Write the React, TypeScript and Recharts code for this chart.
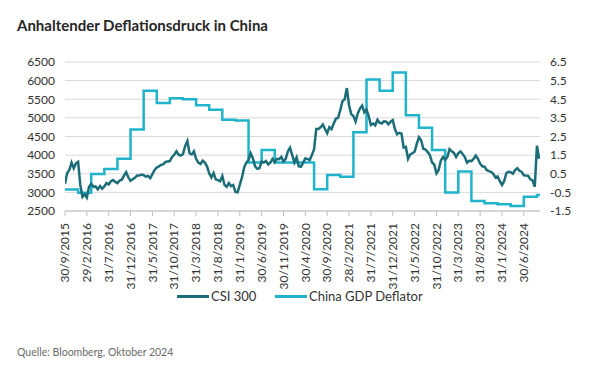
import React from "react";
import { LineChart, Line, XAxis, YAxis, CartesianGrid, Legend } from "recharts";

const TITLE = "Anhaltender Deflationsdruck in China";
const SOURCE = "Quelle: Bloomberg, Oktober 2024";
const FONT = "Lato, 'Noto Sans', sans-serif";

// x positions are months since 30/9/2015
const xTickMonths = [0, 5, 10, 15, 20, 25, 30, 35, 40, 45, 50, 55, 60, 65, 70, 75, 80, 85, 90, 95, 100, 105];
const xTickLabels = [
  "30/9/2015", "29/2/2016", "31/7/2016", "31/12/2016", "31/5/2017", "31/10/2017",
  "31/3/2018", "31/8/2018", "31/1/2019", "30/6/2019", "30/11/2019", "30/4/2020",
  "30/9/2020", "28/2/2021", "31/7/2021", "31/12/2021", "31/5/2022", "31/10/2022",
  "31/3/2023", "31/8/2023", "31/1/2024", "30/6/2024",
];
const leftTicks = [2500, 3000, 3500, 4000, 4500, 5000, 5500, 6000, 6500];
const rightTicks = [-1.5, -0.5, 0.5, 1.5, 2.5, 3.5, 4.5, 5.5, 6.5];

// CSI 300, one reading every half month from 30/9/2015
const CSI_STEP_MONTHS = 0.5;
const csiValues = [
  3230, 3520, 3600, 3800, 3650, 3780, 3820, 3200, 2880, 2950,
  2860, 3150, 3230, 3150, 3160, 3080, 3170, 3100, 3160, 3250,
  3210, 3300, 3330, 3280, 3250, 3320, 3340, 3450, 3540, 3400,
  3310, 3350, 3390, 3450, 3450, 3480, 3460, 3420, 3440, 3380,
  3490, 3600, 3670, 3700, 3740, 3760, 3820, 3830, 3840, 3950,
  4010, 4100, 4010, 3990, 4030, 4250, 4380, 4050, 4020, 4100,
  3900, 3800, 3760, 3850, 3800, 3700, 3510, 3400, 3520, 3350,
  3330, 3300, 3440, 3200, 3150, 3250, 3170, 3200, 3010, 3000,
  3200, 3400, 3670, 3800, 3870, 4050, 3910, 3700, 3630, 3650,
  3830, 3800, 3840, 3750, 3800, 3900, 3810, 3900, 3890, 3950,
  3830, 3900, 4100, 4200, 4000, 3800, 3940, 3700, 3690, 3800,
  3910, 3900, 3870, 4000, 4160, 4700, 4700, 4750, 4820, 4700,
  4590, 4750, 4700, 4850, 4980, 5000, 5210, 5450, 5500, 5800,
  5340, 5100, 5050, 4900, 5120, 5250, 5330, 5150, 5220, 5050,
  4810, 4850, 4800, 4950, 4870, 4850, 4910, 4900, 4830, 4900,
  4940, 4700, 4560, 4600, 4580, 4200, 4220, 3900, 4020, 4050,
  4090, 4300, 4480, 4400, 4170, 4150, 4080, 4000, 3800, 3750,
  3510, 3600, 3850, 3950, 3870, 3950, 4160, 4100, 4060, 3950,
  4050, 4100, 4030, 3950, 3800, 3850, 3840, 3900, 3990, 3900,
  3770, 3700, 3690, 3600, 3570, 3550, 3500, 3400, 3430, 3300,
  3200, 3300, 3520, 3550, 3540, 3500, 3600, 3650, 3580, 3550,
  3460, 3450, 3440, 3350, 3320, 3150, 4250, 3900,
];

// China GDP deflator (%, y/y), quarterly
const deflatorMonths = [
  0, 3, 6, 9, 12, 15, 18, 21, 24, 27, 30, 33, 36, 39, 42, 45, 48, 51, 54,
  57, 60, 63, 66, 69, 72, 75, 78, 81, 84, 87, 90, 93, 96, 99, 102, 105, 108, 108.7,
];
const deflatorValues = [
  -0.35, -0.52, 0.48, 0.75, 1.3, 2.88, 4.95, 4.3, 4.55, 4.5, 4.18, 3.94, 3.4, 3.36, 1.11, 1.78, 1.1, 1.1, 1.1,
  -0.33, 0.43, 0.34, 2.73, 5.56, 4.95, 5.93, 3.64, 2.97, 1.78, -0.5, 0.62, -0.96, -1.08, -1.14, -1.23, -0.73, -0.64, -0.64,
];

const csiData = csiValues.map((v, i) => ({ m: i * CSI_STEP_MONTHS, v }));
const deflatorData = deflatorMonths.map((m, i) => ({ m, v: deflatorValues[i] }));

const CSI_COLOR = "#1b6d77";
const DEFL_COLOR = "#1fb4cb";

const RotTick = (props: any) => {
  const { x, y, payload } = props;
  const idx = xTickMonths.indexOf(payload.value);
  return (
    <g transform={`translate(${x},${y})`}>
      <text
        x={-5}
        y={0}
        dy="0.35em"
        transform="rotate(-90)"
        textAnchor="end"
        fill="#333"
        fontSize={12}
        fontFamily={FONT}
      >
        {idx >= 0 ? xTickLabels[idx] : ""}
      </text>
    </g>
  );
};

const LegendContent = () => (
  <div style={{ position: "relative", height: 20, fontFamily: FONT, fontSize: 13, color: "#333" }}>
    <div style={{ position: "absolute", left: 162, top: 9, width: 32, height: 3, background: CSI_COLOR }} />
    <div style={{ position: "absolute", left: 196, top: 2, lineHeight: "16px", whiteSpace: "nowrap" }}>CSI 300</div>
    <div style={{ position: "absolute", left: 260, top: 9, width: 32, height: 3, background: DEFL_COLOR }} />
    <div style={{ position: "absolute", left: 294, top: 2, lineHeight: "16px", whiteSpace: "nowrap" }}>China GDP Deflator</div>
  </div>
);

export default function App() {
  return (
    <div style={{ position: "absolute", left: 0, top: 0, width: 591, height: 380, background: "#fff" }}>
      <LineChart width={591} height={320} margin={{ top: 62, right: 11, left: 15, bottom: 14 }}>
        <CartesianGrid vertical={false} stroke="#d9d9d9" yAxisId="left" />
        <XAxis
          dataKey="m"
          type="number"
          domain={[0, 108.7]}
          ticks={xTickMonths}
          interval={0}
          height={75}
          tickSize={5}
          tick={<RotTick />}
          axisLine={{ stroke: "#bfbfbf" }}
          tickLine={{ stroke: "#bfbfbf" }}
          allowDataOverflow
        />
        <YAxis
          yAxisId="left"
          domain={[2500, 6500]}
          ticks={leftTicks}
          interval={0}
          width={50}
          axisLine={false}
          tickLine={false}
          tickSize={0}
          tickMargin={10}
          tick={{ fill: "#333", fontSize: 12, fontFamily: FONT }}
        />
        <YAxis
          yAxisId="right"
          orientation="right"
          domain={[-1.5, 6.5]}
          ticks={rightTicks}
          interval={0}
          width={40}
          axisLine={false}
          tickLine={false}
          tickSize={0}
          tickMargin={10}
          tickFormatter={(v: number) => v.toFixed(1)}
          tick={{ fill: "#333", fontSize: 12, fontFamily: FONT, textAnchor: "start" }}
        />
        <Line
          yAxisId="right"
          data={deflatorData}
          dataKey="v"
          type="stepAfter"
          stroke={DEFL_COLOR}
          strokeWidth={2.5}
          dot={false}
          isAnimationActive={false}
          name="China GDP Deflator"
        />
        <Line
          yAxisId="left"
          data={csiData}
          dataKey="v"
          type="linear"
          stroke={CSI_COLOR}
          strokeWidth={2.5}
          dot={false}
          isAnimationActive={false}
          name="CSI 300"
        />
        <Legend verticalAlign="bottom" content={<LegendContent />} />
      </LineChart>
      <svg width={591} height={380} style={{ position: "absolute", left: 0, top: 0, pointerEvents: "none" }}>
        <text x={17} y={30.5} fontFamily={FONT} fontSize={15} fontWeight={700} fill="#262626">
          {TITLE}
        </text>
        <text x={17} y={356} fontFamily={FONT} fontSize={10.5} fill="#6b6b6b">
          {SOURCE}
        </text>
      </svg>
    </div>
  );
}
